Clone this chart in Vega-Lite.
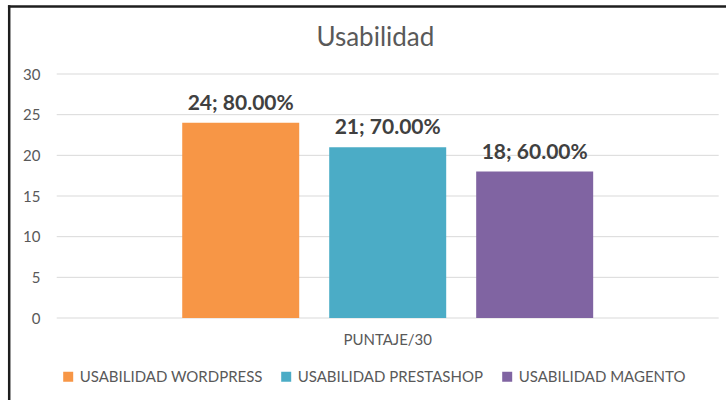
{
  "$schema": "https://vega.github.io/schema/vega-lite/v6.json",
  "width": 717.3,
  "height": 394,
  "autosize": {"type": "none"},
  "padding": {"left": 8.7, "top": 6, "right": 0, "bottom": 0},
  "background": "white",
  "config": {
    "font": "Lato",
    "view": {"stroke": null}
  },
  "title": {
    "text": "Usabilidad",
    "fontSize": 26,
    "fontWeight": "normal",
    "color": "#595959",
    "font": "Lato",
    "anchor": "middle",
    "frame": "group",
    "dx": 8,
    "offset": -45
  },
  "datasets": {
    "barras": [
      {"cat": "PUNTAJE/30", "serie": "USABILIDAD WORDPRESS", "valor": 24, "etiqueta": "24; 80.00%"},
      {"cat": "PUNTAJE/30", "serie": "USABILIDAD PRESTASHOP", "valor": 21, "etiqueta": "21; 70.00%"},
      {"cat": "PUNTAJE/30", "serie": "USABILIDAD MAGENTO", "valor": 18, "etiqueta": "18; 60.00%"}
    ],
    "rejilla": [
      {"cat": "PUNTAJE/30", "v": 0},
      {"cat": "PUNTAJE/30", "v": 5},
      {"cat": "PUNTAJE/30", "v": 10},
      {"cat": "PUNTAJE/30", "v": 15},
      {"cat": "PUNTAJE/30", "v": 20},
      {"cat": "PUNTAJE/30", "v": 25},
      {"cat": "PUNTAJE/30", "v": 30}
    ]
  },
  "resolve": {"axis": {"x": "independent", "y": "independent"}},
  "layer": [
    {
      "data": {"name": "rejilla"},
      "mark": {"type": "rule", "color": "#d9d9d9", "strokeWidth": 1},
      "encoding": {
        "x": {
          "field": "cat",
          "type": "nominal",
          "bandPosition": 0,
          "scale": {"paddingInner": 0, "paddingOuter": 0.04177, "align": 0.868},
          "axis": {
            "orient": "top",
            "title": null,
            "offset": 0,
            "domain": true,
            "domainColor": "#1e1e1e",
            "domainWidth": 2.5,
            "domainCap": "square",
            "ticks": false,
            "labels": false,
            "grid": false
          }
        },
        "x2": {"field": "cat", "bandPosition": 1},
        "y": {
          "field": "v",
          "type": "quantitative",
          "scale": {"domain": [-10.082, 38.361], "nice": false, "zero": false},
          "axis": {
            "orient": "left",
            "title": null,
            "offset": 0,
            "domain": true,
            "domainColor": "#1e1e1e",
            "domainWidth": 2.5,
            "domainCap": "square",
            "ticks": false,
            "labels": false,
            "grid": false
          }
        }
      }
    },
    {
      "data": {"name": "barras"},
      "mark": {"type": "bar"},
      "encoding": {
        "x": {
          "field": "cat",
          "type": "nominal",
          "axis": {
            "title": null,
            "orient": "bottom",
            "offset": -82,
            "domain": false,
            "ticks": false,
            "tickSize": 0,
            "grid": false,
            "labelPadding": 14,
            "labelAngle": 0,
            "labelFontSize": 15,
            "labelColor": "#595959",
            "labelFont": "Lato"
          }
        },
        "y": {
          "field": "valor",
          "type": "quantitative",
          "axis": {
            "title": null,
            "orient": "left",
            "offset": -39.3,
            "values": [0, 5, 10, 15, 20, 25, 30],
            "domain": false,
            "ticks": false,
            "tickSize": 0,
            "grid": false,
            "labelPadding": 8,
            "labelFontSize": 15,
            "labelColor": "#595959",
            "labelFont": "Lato"
          }
        },
        "xOffset": {
          "field": "serie",
          "type": "nominal",
          "sort": null,
          "scale": {"paddingInner": 0.204, "paddingOuter": 0.854}
        },
        "color": {
          "field": "serie",
          "type": "nominal",
          "sort": null,
          "scale": {
            "domain": ["USABILIDAD WORDPRESS", "USABILIDAD PRESTASHOP", "USABILIDAD MAGENTO"],
            "range": ["#F79646", "#4BACC6", "#8064A2"]
          },
          "legend": {
            "title": null,
            "orient": "none",
            "direction": "horizontal",
            "legendX": 52,
            "legendY": 363,
            "symbolType": "square",
            "symbolSize": 100,
            "symbolStrokeWidth": 0,
            "symbolOpacity": 1,
            "labelFontSize": 15,
            "labelLimit": 400,
            "labelColor": "#595959",
            "labelFont": "Lato",
            "labelOffset": 4,
            "columnPadding": 16
          }
        }
      }
    },
    {
      "data": {"name": "barras"},
      "mark": {"type": "text", "fontWeight": "bold", "fontSize": 21, "color": "#404040", "baseline": "alphabetic", "dy": -13, "font": "Lato"},
      "encoding": {
        "x": {"field": "cat", "type": "nominal", "axis": null},
        "y": {"field": "valor", "type": "quantitative", "axis": null},
        "xOffset": {"field": "serie", "type": "nominal", "sort": null},
        "text": {"field": "etiqueta"}
      }
    }
  ]
}
